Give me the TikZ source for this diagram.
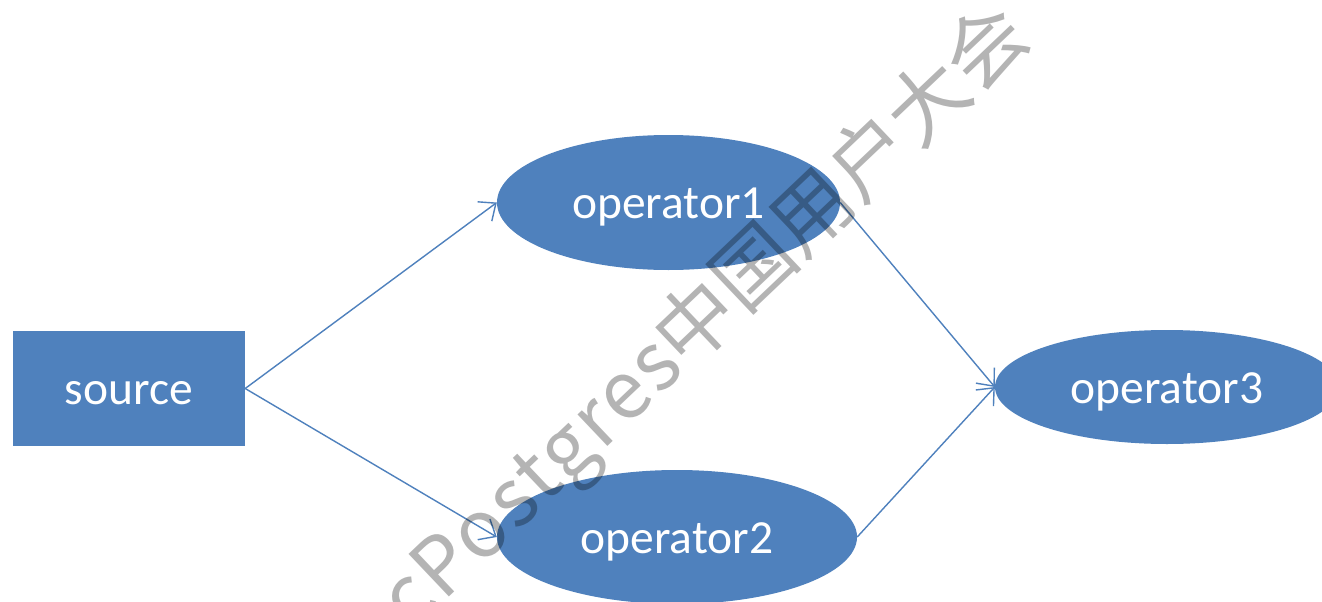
\documentclass[tikz,border=0pt]{standalone}
\usepackage{fontspec}
\setmainfont{Carlito}
\newfontfamily\wmfont{Noto Sans CJK SC}
\newfontfamily\wmlatin[LetterSpace=3]{Noto Sans CJK SC}
\usetikzlibrary{shapes.geometric,arrows.meta}
\definecolor{boxblue}{RGB}{79,129,189}
\definecolor{wmgray}{RGB}{180,180,180}
\tikzset{
  shapebase/.style={fill=boxblue, draw=none, text=white, inner sep=0pt,
    font=\fontsize{47.5}{52}\selectfont, text height=40pt, text depth=8pt},
  srcbox/.style={shapebase, rectangle, minimum width=232pt, minimum height=115pt},
  opnode/.style={shapebase, ellipse},
  flow/.style={draw=boxblue, line width=1.4pt,
    -{Straight Barb[length=14pt,width=24pt,line width=1.4pt]}},
  watermark/.style={text=wmgray, font=\wmfont\fontsize{80}{90}\selectfont,
    inner sep=0pt, rotate=43.5}
}
\begin{document}
\begin{tikzpicture}[x=1pt,y=-1pt]
  \useasboundingbox (0,0) rectangle (1322,602);
  \begin{scope}
    \clip (0,0) rectangle (1322,602);
    \fill[white] (0,0) rectangle (1322,602);
    % nodes
    \node[srcbox] (src) at (129,388.5) {source};
    \node[opnode, minimum width=343pt, minimum height=135pt] (op1) at (668.5,202.5) {operator1};
    \node[opnode, minimum width=360pt, minimum height=134pt] (op2) at (677,537) {operator2};
    \node[opnode, minimum width=344pt, minimum height=114pt] (op3) at (1167,387) {operator3};
    % connectors
    \draw[flow] (src.east) -- (op1.west);
    \draw[flow] (src.east) -- (op2.west);
    \draw[flow] (op1.east) -- (op3.west);
    \draw[flow] (op2.east) -- (op3.west);
    % watermark
    \begin{scope}[blend mode=multiply]
      \node[watermark] (wm) at (707,319) {{\wmlatin\fontsize{80}{90}\selectfont cPostgres}中国用户大会};
    \end{scope}
  \end{scope}
\end{tikzpicture}
\end{document}
